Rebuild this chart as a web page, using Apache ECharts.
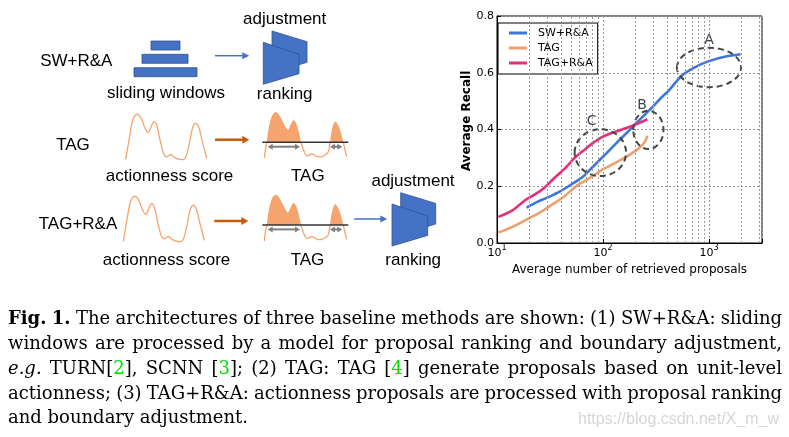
<!DOCTYPE html>
<html><head><meta charset="utf-8">
<script src="https://cdn.jsdelivr.net/npm/echarts@6/dist/echarts.min.js"></script>
<style>html,body{margin:0;padding:0;background:#fff}#c{width:789px;height:437px}</style>
</head><body><div id="c"></div>
<script>
// ---------------- chart data ----------------
const SERIES_NAMES = ['SW+R&A', 'TAG', 'TAG+R&A'];
const SW_RA_X = [19, 24, 29, 39, 52, 65, 80, 107, 138, 177, 210, 260, 294, 350, 421, 561, 750, 1000, 1435, 1985];
const SW_RA_Y = [0.125, 0.145, 0.158, 0.181, 0.21, 0.234, 0.268, 0.315, 0.357, 0.397, 0.425, 0.46, 0.48, 0.51, 0.539, 0.592, 0.621, 0.641, 0.657, 0.665];
const TAG_X = [10.3, 14, 20, 26, 33, 40, 52, 58, 70, 83, 100, 124, 159, 198, 230, 250, 262];
const TAG_Y = [0.037, 0.057, 0.087, 0.11, 0.135, 0.155, 0.19, 0.205, 0.222, 0.24, 0.26, 0.278, 0.3, 0.322, 0.342, 0.358, 0.378];
const TAG_RA_X = [10.3, 14, 18.3, 23, 28, 35, 43.5, 54, 65, 80, 100, 138, 198, 262];
const TAG_RA_Y = [0.092, 0.115, 0.15, 0.172, 0.195, 0.23, 0.262, 0.3, 0.325, 0.352, 0.375, 0.395, 0.416, 0.436];
const Y_TICKS = [0, 0.2, 0.4, 0.6, 0.8];
const X_MINOR = [20, 30, 40, 50, 60, 70, 80, 90, 200, 300, 400, 500, 600, 700, 800, 900, 2000, 3000];
// annotation ellipses (data extents) and labels
const ANNOT_LABELS = ['A', 'B', 'C'];
const ANNOT_X_LO = [498, 193, 54];
const ANNOT_X_HI = [2010, 372, 165];
const ANNOT_Y_LO = [0.549, 0.331, 0.236];
const ANNOT_Y_HI = [0.688, 0.466, 0.401];
const ANNOT_LABEL_X = [1000, 233, 78];
const ANNOT_LABEL_Y = [0.714, 0.486, 0.429];
// caption text
const CAPTION_LINES = [
  '*Fig.* *1.* The architectures of three baseline methods are shown: (1) SW+R&A: sliding',
  'windows are processed by a model for proposal ranking and boundary adjustment,',
  '_e.g._ TURN[{2}], SCNN [{3}]; (2) TAG: TAG [{4}] generate proposals based on unit-level',
  'actionness; (3) TAG+R&A: actionness proposals are processed with proposal ranking',
  'and boundary adjustment.'
];
const WATERMARK = 'https://blog.csdn.net/X_m_w';

// ---------------- helpers ----------------
const zip = (xs, ys) => xs.map((x, i) => [x, ys[i]]);
function catmull(pts, steps) {
  const out = [];
  for (let i = 0; i < pts.length - 1; i++) {
    const p0 = pts[i - 1] || pts[i], p1 = pts[i], p2 = pts[i + 1], p3 = pts[i + 2] || pts[i + 1];
    for (let s = 0; s < steps; s++) {
      const t = s / steps, t2 = t * t, t3 = t2 * t;
      out.push([0, 1].map(k => 0.5 * ((2 * p1[k]) + (-p0[k] + p2[k]) * t +
        (2 * p0[k] - 5 * p1[k] + 4 * p2[k] - p3[k]) * t2 + (-p0[k] + 3 * p1[k] - 3 * p2[k] + p3[k]) * t3)));
    }
  }
  out.push(pts[pts.length - 1]);
  return out;
}
const shift = (pts, dx, dy) => pts.map(p => [p[0] + dx, p[1] + dy]);

const G = [];
const SANS = 'Liberation Sans';
function label(text, x, y) {
  G.push({type: 'text', x, y, style: {text, fontSize: 17, fontFamily: SANS, fill: '#000', align: 'center', verticalAlign: 'middle'}});
}
function arrow(x1, x2, y, color, w, hl, hh) {
  G.push({type: 'line', shape: {x1, y1: y, x2: x2 - hl + 1, y2: y}, style: {stroke: color, lineWidth: w}});
  G.push({type: 'polygon', shape: {points: [[x2, y], [x2 - hl, y - hh], [x2 - hl, y + hh]]}, style: {fill: color}});
}
function dblArrow(x1, x2, y) {
  const c = '#7f7f7f';
  G.push({type: 'line', shape: {x1: x1 + 3, y1: y, x2: x2 - 3, y2: y}, style: {stroke: c, lineWidth: 2}});
  G.push({type: 'polygon', shape: {points: [[x1, y], [x1 + 5, y - 3], [x1 + 5, y + 3]]}, style: {fill: c}});
  G.push({type: 'polygon', shape: {points: [[x2, y], [x2 - 5, y - 3], [x2 - 5, y + 3]]}, style: {fill: c}});
}
const BLUE = '#4472c4', BLUE_EDGE = '#2f528f', ORANGE_LIGHT = '#f4a46c', ORANGE_DARK = '#c55a11';
function rect(x, y, w, h) {
  G.push({type: 'rect', shape: {x, y, width: w, height: h}, style: {fill: BLUE, stroke: BLUE_EDGE, lineWidth: 0.8}});
}
function trap(dx, dy) {
  G.push({type: 'polygon', shape: {points: shift([[272, 31], [307, 41.7], [307, 62.3], [272, 73]], dx, dy)}, style: {fill: BLUE, stroke: BLUE_EDGE, lineWidth: 0.8}});
  G.push({type: 'polygon', shape: {points: shift([[263.3, 42.3], [299, 54.3], [299, 73.7], [263.3, 84.3]], dx, dy)}, style: {fill: BLUE, stroke: BLUE_EDGE, lineWidth: 0.8}});
}
const ACT = [[125.7,159.3],[129,140],[132.5,121],[136.7,114.3],[141,118],[145,128],[148.3,132.3],[151,127],[154,121.7],[157,126],[160,140],[163.5,153],[166.7,156.7],[170.7,154.5],[174,157],[178.3,159],[185,158.3],[189,145],[192.5,128],[195.7,123.3],[199,128],[202.5,142],[206.7,158.3]];
function actionness(dx, dy) {
  G.push({type: 'polyline', shape: {points: catmull(shift(ACT, dx, dy), 8)}, style: {stroke: ORANGE_LIGHT, lineWidth: 1.3, fill: null}});
}
const H1 = [[266.7,142.3],[268.5,129],[271.5,117],[275,112.3],[278.5,114],[282.5,121],[286.5,128.5],[288.3,129.5],[290.5,125],[293.3,120.3],[296.5,124],[299,133],[301,142.3]];
const H2 = [[330,142.3],[332,129],[335,121.7],[338.5,126],[341,133],[343.3,142.3]];
const B1 = [[264.3,158.3],[265.3,150],[266.7,142.3]];
const B2 = [[301,142.3],[303.5,150],[306,155],[308.3,155.7],[311,154],[313.3,154.3],[317,156.5],[321.7,156.7],[325,155],[328.3,151.7],[330,142.3]];
const B3 = [[343.3,142.3],[345,150],[346.7,156.7]];
function tag(dy) {
  [H1, H2].forEach(h => G.push({type: 'polygon', shape: {points: catmull(shift(h, 0, dy), 8)}, style: {fill: '#f4a46c'}}));
  [B1, B2, B3].forEach(b => G.push({type: 'polyline', shape: {points: catmull(shift(b, 0, dy), 8)}, style: {stroke: ORANGE_LIGHT, lineWidth: 1.3, fill: null}}));
  G.push({type: 'line', shape: {x1: 262.3, y1: 142.3 + dy, x2: 348.3, y2: 142.3 + dy}, style: {stroke: '#333', lineWidth: 1.5}});
  dblArrow(267.7, 300, 146.7 + dy);
  dblArrow(330, 342.3, 146.7 + dy);
}

// ---- diagram row 1: SW+R&A
label('SW+R&A', 76.3, 61);
rect(151, 41, 29, 9); rect(142, 54.3, 46, 9); rect(134, 67.7, 63, 9);
label('sliding windows', 166, 93);
arrow(215, 249.3, 55.7, BLUE, 1.5, 7, 3.5);
trap(0, 0);
label('adjustment', 284.7, 19);
label('ranking', 284.7, 94);
// ---- row 2: TAG
label('TAG', 73, 145.7);
actionness(0, 0);
label('actionness score', 169.5, 176);
arrow(215, 249.3, 139.7, ORANGE_DARK, 2.5, 7, 4);
tag(0);
label('TAG', 307.8, 176);
// ---- row 3: TAG+R&A
label('TAG+R&A', 78, 224);
actionness(-2.4, 82);
label('actionness score', 166.5, 260);
arrow(214.3, 248.3, 221, ORANGE_DARK, 2.5, 7, 4);
tag(82.7);
label('TAG', 307.5, 260);
arrow(354.3, 387.3, 219, BLUE, 1.5, 7, 3.5);
trap(128.7, 161.7);
label('adjustment', 413, 181);
label('ranking', 413.2, 260);

// ---- caption (justified)
const cv = document.createElement('canvas').getContext('2d');
const SERIF = 'DejaVu Serif', CAP_SIZE = 18, CAP_LEFT = 8, CAP_RIGHT = 782, CAP_Y0 = 319.6, CAP_DY = 24.8;
function fontStr(r) { return (r.italic ? 'italic ' : '') + (r.bold ? 'bold ' : '') + CAP_SIZE + 'px "' + SERIF + '"'; }
function parseWord(w) {
  return w.split(/(\*[^*]*\*|_[^_]*_|\{[^}]*\})/).filter(Boolean).map(tok => {
    if (tok[0] === '*') return {t: tok.slice(1, -1), bold: true};
    if (tok[0] === '_') return {t: tok.slice(1, -1), italic: true};
    if (tok[0] === '{') return {t: tok.slice(1, -1), green: true};
    return {t: tok};
  });
}
function measure(r) { cv.font = fontStr(r); return cv.measureText(r.t).width; }
cv.font = fontStr({});
const SPACE_W = cv.measureText(' ').width;
CAPTION_LINES.forEach((line, li) => {
  const words = line.split(' ').map(parseWord);
  const widths = words.map(runs => runs.reduce((s, r) => s + measure(r), 0));
  const total = widths.reduce((a, b) => a + b, 0);
  const last = li === CAPTION_LINES.length - 1;
  const gap = last ? SPACE_W : (CAP_RIGHT - CAP_LEFT - total) / (words.length - 1);
  let x = CAP_LEFT;
  const y = CAP_Y0 + li * CAP_DY;
  words.forEach((runs, wi) => {
    let rx = x;
    runs.forEach(r => {
      G.push({type: 'text', x: rx, y, style: {text: r.t, fontSize: CAP_SIZE, fontFamily: SERIF,
        fontWeight: r.bold ? 'bold' : 'normal', fontStyle: r.italic ? 'italic' : 'normal',
        fill: r.green ? '#00dd00' : '#000', align: 'left', verticalAlign: 'middle'}});
      rx += measure(r);
    });
    x += widths[wi] + gap;
  });
});
G.push({type: 'text', x: 779, y: 420, style: {text: WATERMARK, fontSize: 16, fontFamily: SANS, fill: '#d6d6d6', align: 'right', verticalAlign: 'middle'}});

// ---------------- chart ----------------
const MPL = 'DejaVu Sans';
const GRID_LINE = {color: '#9a9a9a', type: [2, 2], width: 1};
const COLORS = ['#3d77d8', '#eba06d', '#e3307a'];
const chart = echarts.init(document.getElementById('c'), null, {renderer: 'canvas', width: 789, height: 437});
chart.setOption({
  animation: false,
  backgroundColor: '#fff',
  grid: {left: 497, top: 16, width: 265, height: 227, show: true, borderColor: '#000', borderWidth: 1,
    backgroundColor: 'transparent', containLabel: false, outerBoundsMode: 'none'},
  legend: {
    data: SERIES_NAMES, orient: 'vertical', left: 498, top: 23,
    backgroundColor: '#fff', borderColor: '#000', borderWidth: 1, borderRadius: 0,
    padding: [4, 5, 5, 11], itemGap: 3, itemWidth: 18, itemHeight: 3, icon: 'rect',
    textStyle: {fontFamily: MPL, fontSize: 11, color: '#000', lineHeight: 12, padding: [0, 0, 0, 6]},
    selectedMode: false
  },
  xAxis: {
    type: 'log', logBase: 10, min: 10, max: 3162.28,
    name: 'Average number of retrieved proposals', nameLocation: 'middle', nameGap: 16,
    nameTextStyle: {fontFamily: MPL, fontSize: 12, color: '#000'},
    axisLine: {show: true, lineStyle: {color: '#000', width: 1}},
    axisTick: {show: true, inside: true, length: 4, lineStyle: {color: '#000'}},
    splitLine: {show: true, lineStyle: GRID_LINE},
    axisLabel: {
      margin: 1, showMinLabel: true, showMaxLabel: true, hideOverlap: false,
      formatter: v => {
        const l = Math.log10(v), e = Math.round(l);
        if (Math.abs(l - e) > 1e-6) return '';
        return '{b|10}{s|' + e + '}';
      },
      rich: {
        b: {fontFamily: MPL, fontSize: 11, color: '#000', lineHeight: 15, verticalAlign: 'bottom'},
        s: {fontFamily: MPL, fontSize: 8, color: '#000', lineHeight: 9, verticalAlign: 'top'}
      }
    }
  },
  yAxis: {
    type: 'value', min: Y_TICKS[0], max: Y_TICKS[Y_TICKS.length - 1], interval: 0.2,
    name: 'Average Recall', nameLocation: 'middle', nameGap: 21,
    nameTextStyle: {fontFamily: MPL, fontSize: 12, fontWeight: 'bold', color: '#000', padding: [0, 0, 0, 17]},
    axisLine: {show: true, lineStyle: {color: '#000', width: 1}},
    axisTick: {show: true, inside: true, length: 4, lineStyle: {color: '#000'}},
    splitLine: {show: true, lineStyle: GRID_LINE},
    axisLabel: {margin: 3, fontFamily: MPL, fontSize: 11, color: '#000', formatter: v => v.toFixed(1)}
  },
  series: [
    {name: 'minor-grid', type: 'line', data: [], silent: true,
      markLine: {silent: true, symbol: ['none', 'none'], label: {show: false}, emphasis: {disabled: true},
        lineStyle: GRID_LINE, data: X_MINOR.map(v => ({xAxis: v}))}},
    {name: SERIES_NAMES[0], type: 'line', data: zip(SW_RA_X, SW_RA_Y), smooth: 0.3, showSymbol: false, symbol: 'none',
      lineStyle: {color: COLORS[0], width: 2.6}, itemStyle: {color: COLORS[0]}, z: 3},
    {name: SERIES_NAMES[1], type: 'line', data: zip(TAG_X, TAG_Y), smooth: 0.3, showSymbol: false, symbol: 'none',
      lineStyle: {color: COLORS[1], width: 2.6}, itemStyle: {color: COLORS[1]}, z: 3},
    {name: SERIES_NAMES[2], type: 'line', data: zip(TAG_RA_X, TAG_RA_Y), smooth: 0.3, showSymbol: false, symbol: 'none',
      lineStyle: {color: COLORS[2], width: 2.6}, itemStyle: {color: COLORS[2]}, z: 3},
    {name: 'annotations', type: 'custom', coordinateSystem: 'cartesian2d', silent: true, clip: false, z: 4,
      encode: {x: [0, 1], y: [2, 3]},
      data: ANNOT_LABELS.map((_, i) => [ANNOT_X_LO[i], ANNOT_X_HI[i], ANNOT_Y_LO[i], ANNOT_Y_HI[i], ANNOT_LABEL_X[i], ANNOT_LABEL_Y[i]]),
      renderItem: (params, api) => {
        const tl = api.coord([api.value(0), api.value(3)]);
        const br = api.coord([api.value(1), api.value(2)]);
        const lp = api.coord([api.value(4), api.value(5)]);
        return {type: 'group', children: [
          {type: 'ellipse', shape: {cx: (tl[0] + br[0]) / 2, cy: (tl[1] + br[1]) / 2, rx: (br[0] - tl[0]) / 2, ry: (br[1] - tl[1]) / 2},
            style: {fill: 'none', stroke: '#454545', lineWidth: 2, lineDash: [6, 4]}},
          {type: 'text', x: lp[0], y: lp[1], style: {text: ANNOT_LABELS[params.dataIndex], fontSize: 14, fontFamily: MPL,
            fill: '#3a4556', align: 'center', verticalAlign: 'middle'}}
        ]};
      }}
  ],
  graphic: {elements: G}
});
</script></body></html>
